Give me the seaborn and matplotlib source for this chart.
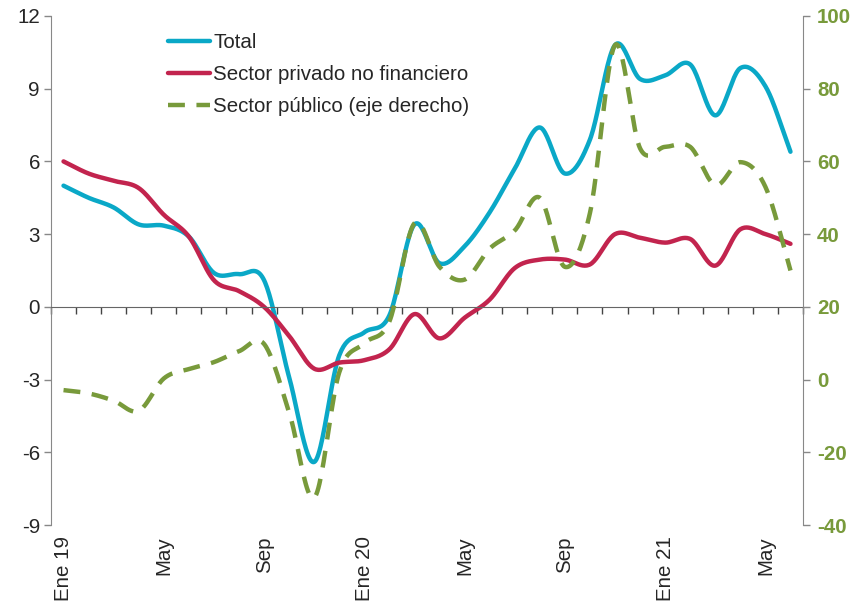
import numpy as np
import pandas as pd
import matplotlib
matplotlib.use("Agg")
import matplotlib.pyplot as plt
import matplotlib.transforms as mtransforms
import seaborn as sns

# monthly data, Ene 19 - Jun 21
meses = ["Ene 19", "Feb", "Mar", "Abr", "May", "Jun", "Jul", "Ago", "Sep", "Oct", "Nov", "Dic",
         "Ene 20", "Feb", "Mar", "Abr", "May", "Jun", "Jul", "Ago", "Sep", "Oct", "Nov", "Dic",
         "Ene 21", "Feb", "Mar", "Abr", "May", "Jun"]
total = [5.0, 4.5, 4.1, 3.4, 3.35, 2.9, 1.4, 1.35, 1.1, -2.9, -6.4, -2.0, -1.05, -0.35, 3.4,
         1.8, 2.5, 3.9, 5.7, 7.4, 5.5, 6.9, 10.8, 9.4, 9.55, 10.0, 7.9, 9.85, 9.1, 6.4]
privado = [6.0, 5.5, 5.2, 4.9, 3.8, 2.9, 1.1, 0.65, 0.0, -1.2, -2.55, -2.3, -2.2, -1.75, -0.3,
           -1.3, -0.45, 0.3, 1.6, 1.95, 1.95, 1.75, 3.0, 2.85, 2.65, 2.8, 1.7, 3.2, 3.0, 2.6]
publico = [-2.9, -3.8, -5.8, -8.6, 0.3, 2.9, 4.8, 7.8, 9.8, -9.0, -32.5, 2.0, 10.0, 16.0, 43.0,
           31.0, 27.5, 36.0, 41.0, 50.0, 31.0, 45.8, 92.0, 63.6, 64.0, 64.0, 53.5, 59.8, 53.0, 30.0]

c_total = "#0aa8c7"
c_priv = "#c2244e"
c_pub = "#789a3b"


def smooth(y, n=24):
    # catmull-rom curve through the points, like Excel's smoothed line
    y = np.asarray(y, dtype=float)
    p = np.concatenate([[2 * y[0] - y[1]], y, [2 * y[-1] - y[-2]]])
    xs, ys = [], []
    t = np.linspace(0, 1, n, endpoint=False)
    for i in range(len(y) - 1):
        p0, p1, p2, p3 = p[i], p[i + 1], p[i + 2], p[i + 3]
        seg = 0.5 * ((2 * p1) + (-p0 + p2) * t + (2 * p0 - 5 * p1 + 4 * p2 - p3) * t ** 2
                     + (-p0 + 3 * p1 - 3 * p2 + p3) * t ** 3)
        xs.append(i + t)
        ys.append(seg)
    xs.append([len(y) - 1])
    ys.append([y[-1]])
    return np.concatenate(xs), np.concatenate(ys)


sns.set_style("white")
plt.rcParams["font.family"] = ["Liberation Sans", "DejaVu Sans"]
plt.rcParams["font.size"] = 14.8
plt.rcParams["axes.unicode_minus"] = False

fig = plt.figure(figsize=(8.57, 6.05), dpi=100)
ax = fig.add_axes([0.0595, 0.1322, 0.8775, 0.8414])
ax2 = ax.twinx()

x1, y1 = smooth(total)
x2, y2 = smooth(privado)
x3, y3 = smooth(publico)
sns.lineplot(x=x1, y=y1, ax=ax, color=c_total, lw=3.2, label="Total", sort=False)
sns.lineplot(x=x2, y=y2, ax=ax, color=c_priv, lw=3.2, label="Sector privado no financiero", sort=False)
sns.lineplot(x=x3, y=y3, ax=ax2, color=c_pub, lw=3.2, label="Sector público (eje derecho)",
             sort=False, dashes=False)
ax2.lines[0].set_dashes((3.8, 2.6))

ax.set_xlim(-0.5, len(meses) - 0.5)
ax.set_ylim(-9, 12)
ax.set_yticks(range(-9, 13, 3))
ax2.set_ylim(-40, 100)
ax2.set_yticks(range(-40, 101, 20))

gray = "#888888"
for a in (ax, ax2):
    for s in a.spines.values():
        s.set_visible(False)
ax.spines["left"].set_visible(True)
ax.spines["left"].set_color(gray)
ax2.spines["right"].set_visible(True)
ax2.spines["right"].set_color(gray)
ax.spines["bottom"].set_visible(True)
ax.spines["bottom"].set_color("#666666")
ax.spines["bottom"].set_position(("data", 0))

ax.set_xticks(np.arange(-0.5, len(meses), 1.0))
ax.tick_params(axis="x", bottom=True, direction="out", length=5, width=1, color="#444444",
               labelbottom=False)
ax.tick_params(axis="y", left=True, direction="out", length=5, width=1, color=gray,
               labelsize=14.8, pad=3)
ax2.tick_params(axis="y", right=True, direction="out", length=5, width=1, color=gray,
                labelsize=14.8, labelcolor=c_pub, pad=5)
for t in ax2.get_yticklabels():
    t.set_fontweight("bold")

trans = mtransforms.blended_transform_factory(ax.transData, ax.transAxes)
for i, m in enumerate(meses):
    if i % 4 == 0:
        ax.text(i, -0.022, m, rotation=90, ha="center", va="top", transform=trans, fontsize=14.8)

ax.set_xlabel("")
ax.set_ylabel("")
ax2.set_ylabel("")

h1, l1 = ax.get_legend_handles_labels()
h2, l2 = ax2.get_legend_handles_labels()
if ax2.get_legend():
    ax2.get_legend().remove()
leg = ax.legend(h1 + h2, l1 + l2, loc="upper left", bbox_to_anchor=(0.145, 0.982), frameon=False,
                handlelength=2.05, handletextpad=0.15, labelspacing=0.62, fontsize=14.8,
                borderaxespad=0)
ax.set_zorder(ax2.get_zorder())
ax2.patch.set_visible(False)

fig.savefig("out.png", dpi=100)
